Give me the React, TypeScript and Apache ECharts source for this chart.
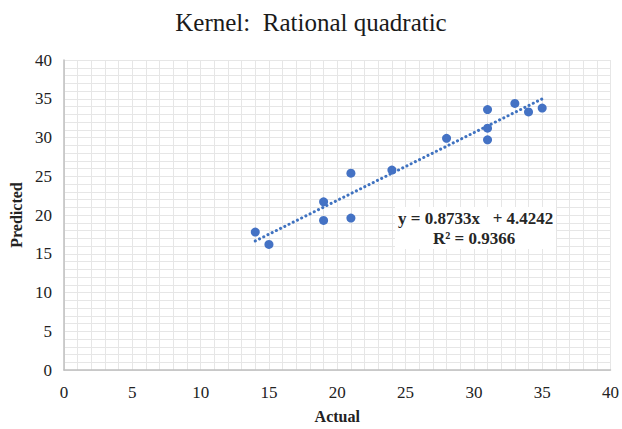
import React, { useEffect, useRef } from "react";
import * as echarts from "echarts";

const actual = [14, 15, 19, 19, 21, 21, 24, 28, 31, 31, 31, 33, 34, 35];
const predicted = [17.8, 16.2, 21.7, 19.3, 25.4, 19.6, 25.8, 29.9, 33.6, 31.2, 29.7, 34.4, 33.3, 33.8];
const slope = 0.8733;
const intercept = 4.4242;
const rSquared = 0.9366;
const titleText = "Kernel:  Rational quadratic";

export default function App() {
  const ref = useRef<HTMLDivElement>(null);
  useEffect(() => {
    if (!ref.current) return;
    const chart = echarts.init(ref.current, null, { renderer: "svg" });
    const pts = actual.map((x, i) => [x, predicted[i]]);
    const xMin = Math.min(...actual);
    const xMax = Math.max(...actual);
    const trend = [
      [xMin, slope * xMin + intercept],
      [xMax, slope * xMax + intercept],
    ];
    const serif = "Liberation Serif";
    const gridColor = "#e6e6e6";
    chart.setOption({
      animation: false,
      backgroundColor: "#ffffff",
      graphic: [
        {
          type: "text",
          left: "center",
          top: 10,
          style: {
            text: titleText,
            font: `normal 25px ${serif}`,
            fill: "#1a1a1a",
          },
        },
        {
          type: "rect",
          left: 395,
          top: 207,
          z: 100,
          shape: { width: 161, height: 42 },
          style: { fill: "#ffffff" },
        },
        {
          type: "text",
          left: 398,
          top: 210,
          z: 101,
          style: {
            text: `y = ${slope.toFixed(4)}x   + ${intercept.toFixed(4)}`,
            font: `bold 17px ${serif}`,
            fill: "#262626",
          },
        },
        {
          type: "text",
          left: 433,
          top: 230,
          z: 101,
          style: {
            text: `R² = ${rSquared.toFixed(4)}`,
            font: `bold 17px ${serif}`,
            fill: "#262626",
          },
        },
      ],
      grid: { left: 63, right: 11, top: 60, bottom: 51, containLabel: false },
      xAxis: {
        type: "value",
        min: 0,
        max: 40,
        interval: 5,
        name: "Actual",
        nameLocation: "middle",
        nameGap: 38,
        nameTextStyle: { fontFamily: serif, fontSize: 16, fontWeight: "bold", color: "#222" },
        axisLine: { show: true, lineStyle: { color: "#bfbfbf", width: 1.5 } },
        axisTick: { show: false },
        axisLabel: { fontFamily: serif, fontSize: 17, color: "#222", margin: 14 },
        splitLine: { show: true, lineStyle: { color: gridColor, width: 1 } },
        minorTick: { show: false, splitNumber: 5 },
        minorSplitLine: { show: true, lineStyle: { color: gridColor, width: 1 } },
      },
      yAxis: {
        type: "value",
        min: 0,
        max: 40,
        interval: 5,
        name: "Predicted",
        nameLocation: "middle",
        nameGap: 40,
        nameTextStyle: { fontFamily: serif, fontSize: 16, fontWeight: "bold", color: "#222" },
        axisLine: { show: true, lineStyle: { color: "#bfbfbf", width: 1.5 } },
        axisTick: { show: false },
        axisLabel: { fontFamily: serif, fontSize: 17, color: "#222", margin: 12 },
        splitLine: { show: true, lineStyle: { color: gridColor, width: 1 } },
        minorTick: { show: false, splitNumber: 5 },
        minorSplitLine: { show: true, lineStyle: { color: gridColor, width: 1 } },
      },
      series: [
        {
          type: "line",
          data: trend,
          symbol: "none",
          lineStyle: { color: "#3f72c0", width: 3, type: [0.1, 4.6], cap: "round" },
          z: 3,
        },
        {
          type: "scatter",
          data: pts,
          symbolSize: 9,
          itemStyle: { color: "#4472c4", opacity: 1 },
          z: 4,
        },
      ],
    });
    return () => chart.dispose();
  }, []);
  return (
    <div
      ref={ref}
      style={{ position: "fixed", left: 0, top: 0, width: 622, height: 429, background: "#fff" }}
    />
  );
}
